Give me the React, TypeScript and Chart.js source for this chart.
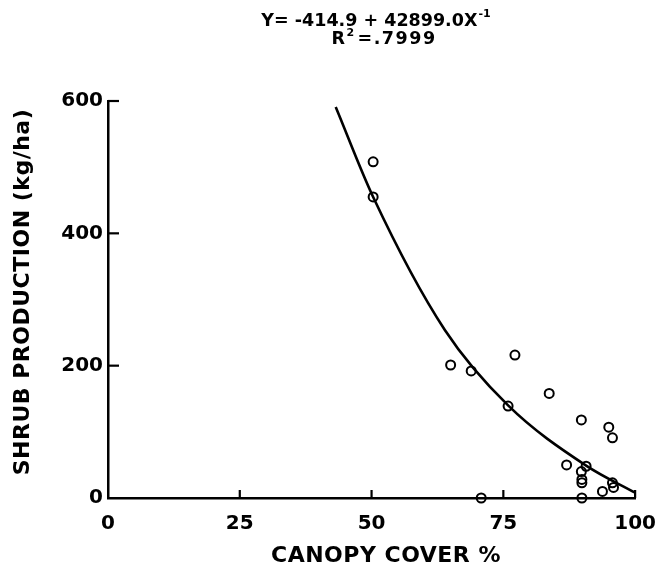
import React, { useEffect, useRef } from "react";
import { Chart, registerables } from "chart.js";

Chart.register(...registerables);

// Observed plots (canopy cover %, shrub production kg/ha)
const canopyCover = [50.3, 50.3, 65.0, 68.9, 70.8, 75.9, 77.2, 83.7, 87.0, 89.8, 89.8, 89.9, 89.9, 89.9, 90.7, 93.8, 95.0, 95.7, 95.7, 95.9];
const shrubProduction = [508, 455, 201, 192, 0, 139, 216, 158, 50, 118, 40, 28, 23, 0, 48, 10, 107, 91, 23, 16];

// Fitted curve
const curveCover = [43.2, 50.3, 63.9, 75.9, 90.7, 100];
const curveProduction = [591, 455, 254, 140, 49, 8];

const xTickValues = [0, 25, 50, 75, 100];
const yTickValues = [0, 200, 400, 600];

const titleMain = "Y= -414.9 + 42899.0X";
const titleMainSup = "-1";
const titleR = "R";
const titleRSup = "2";
const titleRRest = "=.7999";
const xTitle = "CANOPY COVER %";
const yTitle = "SHRUB PRODUCTION (kg/ha)";

const FONT = "'DejaVu Sans', sans-serif";

export default function App() {
  const ref = useRef<HTMLCanvasElement | null>(null);

  useEffect(() => {
    const canvas = ref.current;
    if (!canvas) return;

    const innerTicks = {
      id: "innerTicks",
      afterDraw(chart: any) {
        const { ctx, chartArea, scales } = chart;
        ctx.save();
        ctx.strokeStyle = "#000";
        ctx.lineWidth = 2.2;
        yTickValues.filter((v) => v > 0).forEach((v) => {
          const y = scales.y.getPixelForValue(v);
          ctx.beginPath();
          ctx.moveTo(chartArea.left, y);
          ctx.lineTo(chartArea.left + 11, y);
          ctx.stroke();
        });
        xTickValues.filter((v) => v > 0).forEach((v) => {
          const x = scales.x.getPixelForValue(v);
          ctx.beginPath();
          ctx.moveTo(x, chartArea.bottom);
          ctx.lineTo(x, chartArea.bottom - 8);
          ctx.stroke();
        });
        ctx.restore();
      },
    };

    const titles = {
      id: "titles",
      afterDraw(chart: any) {
        const { ctx } = chart;
        ctx.save();
        ctx.fillStyle = "#000";
        ctx.textBaseline = "middle";
        ctx.textAlign = "left";

        // Line 1 with superscript
        ctx.font = `bold 17.5px ${FONT}`;
        const w1 = ctx.measureText(titleMain).width;
        ctx.font = `bold 11px ${FONT}`;
        const ws1 = ctx.measureText(titleMainSup).width;
        let x0 = 376 - (w1 + ws1 + 1) / 2;
        ctx.font = `bold 17.5px ${FONT}`;
        ctx.fillText(titleMain, x0, 21);
        ctx.font = `bold 11px ${FONT}`;
        ctx.fillText(titleMainSup, x0 + w1 + 1, 14);

        // Line 2
        (ctx as any).letterSpacing = "1.5px";
        ctx.font = `bold 17.5px ${FONT}`;
        const wr = ctx.measureText(titleR).width;
        const wrest = ctx.measureText(titleRRest).width;
        ctx.font = `bold 11px ${FONT}`;
        const ws2 = ctx.measureText(titleRSup).width;
        x0 = 384 - (wr + ws2 + 2 + wrest) / 2;
        ctx.font = `bold 17.5px ${FONT}`;
        ctx.fillText(titleR, x0, 39);
        ctx.font = `bold 11px ${FONT}`;
        ctx.fillText(titleRSup, x0 + wr, 33);
        ctx.font = `bold 17.5px ${FONT}`;
        ctx.fillText(titleRRest, x0 + wr + ws2 + 2, 39);

        // X title
        ctx.textAlign = "center";
        ctx.font = `bold 22px ${FONT}`;
        (ctx as any).letterSpacing = "0.5px";
        ctx.fillText(xTitle, 386, 556);

        // Y title
        ctx.translate(23, 292);
        ctx.rotate(-Math.PI / 2);
        ctx.fillText(yTitle, 0, 0);
        ctx.restore();
      },
    };

    const chart = new Chart(canvas, {
      type: "scatter",
      data: {
        datasets: [
          {
            data: canopyCover.map((x, i) => ({ x, y: shrubProduction[i] })),
            showLine: false,
            pointRadius: 4.5,
            pointBorderWidth: 2,
            pointBorderColor: "#000",
            pointBackgroundColor: "rgba(0,0,0,0)",
            clip: false,
          } as any,
          {
            data: curveCover.map((x, i) => ({ x, y: curveProduction[i] })),
            showLine: true,
            borderColor: "#000",
            borderWidth: 2.6,
            pointRadius: 0,
            cubicInterpolationMode: "monotone",
            clip: false,
          } as any,
        ],
      },
      options: {
        responsive: false,
        animation: false,
        layout: { padding: { top: 101, right: 27, left: 0, bottom: 0 } },
        plugins: {
          legend: { display: false },
          tooltip: { enabled: false },
          title: { display: false },
        },
        scales: {
          x: {
            type: "linear",
            min: 0,
            max: 100,
            afterBuildTicks: (s: any) => {
              s.ticks = xTickValues.map((value) => ({ value }));
            },
            afterFit: (s: any) => {
              s.height = 69;
            },
            grid: { drawOnChartArea: false, drawTicks: false },
            border: { display: true, color: "#000", width: 2.5 },
            ticks: {
              color: "#000",
              padding: 14,
              maxRotation: 0,
              font: { family: FONT, size: 20, weight: "bold" },
              callback: (v: any) => String(v),
            },
          },
          y: {
            type: "linear",
            min: 0,
            max: 600,
            afterBuildTicks: (s: any) => {
              s.ticks = yTickValues.map((value) => ({ value }));
            },
            afterFit: (s: any) => {
              s.width = 108;
            },
            grid: { drawOnChartArea: false, drawTicks: false },
            border: { display: true, color: "#000", width: 2.5 },
            ticks: {
              color: "#000",
              padding: 5,
              font: { family: FONT, size: 20, weight: "bold" },
              callback: (v: any) => String(v),
            },
          },
        },
      },
      plugins: [innerTicks, titles],
    });

    return () => chart.destroy();
  }, []);

  return (
    <div style={{ position: "fixed", left: 0, top: 0, width: 670, height: 567, background: "#fff" }}>
      <canvas ref={ref} width={670} height={567} style={{ display: "block" }} />
    </div>
  );
}
